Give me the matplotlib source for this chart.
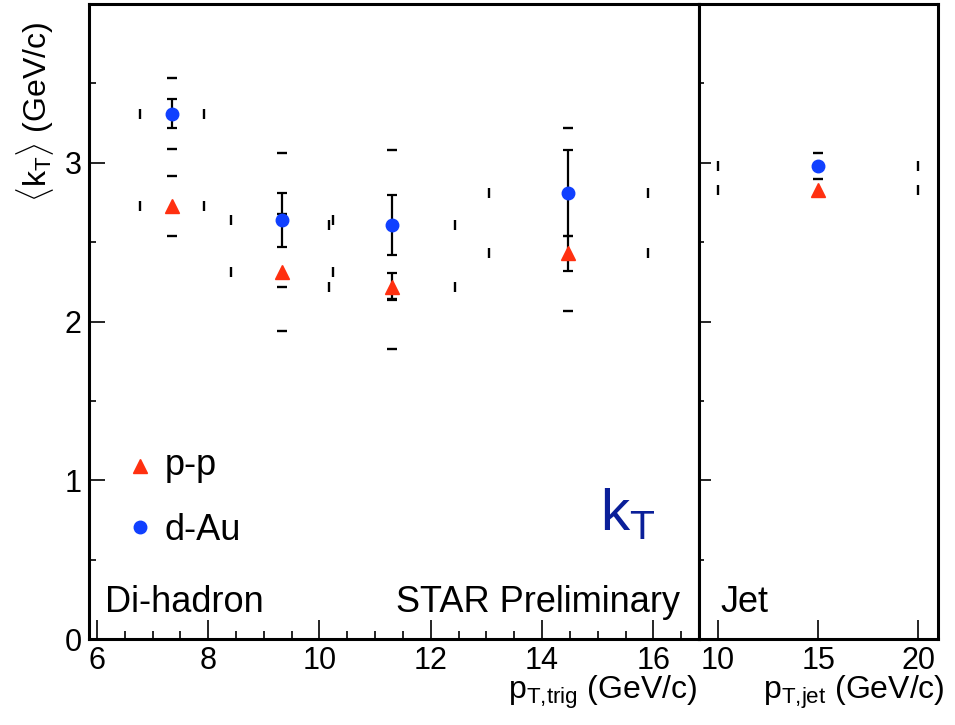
import numpy as np
import matplotlib
matplotlib.use('Agg')
import matplotlib.pyplot as plt
from matplotlib.ticker import MultipleLocator, FixedLocator

plt.rcParams['font.family'] = ['Liberation Sans', 'DejaVu Sans']
plt.rcParams['mathtext.fontset'] = 'custom'
plt.rcParams['mathtext.rm'] = 'Liberation Sans'
plt.rcParams['mathtext.it'] = 'Liberation Sans:italic'
plt.rcParams['mathtext.sf'] = 'Liberation Sans'

# di-hadron points (x = <pT,trig>, x error = trigger bin range)
trig_pt = [7.35, 9.33, 11.31, 14.47]
trig_xlo = [0.58, 0.92, 1.13, 1.43]
trig_xhi = [0.58, 0.92, 1.13, 1.44]
pp_kt = [2.73, 2.31, 2.22, 2.43]
pp_stat = [0.0, 0.0, 0.085, 0.11]
pp_sys = [0.19, 0.37, 0.39, 0.36]
dau_kt = [3.31, 2.64, 2.61, 2.81]
dau_stat = [0.09, 0.17, 0.19, 0.27]
dau_sys = [0.225, 0.42, 0.47, 0.41]

# jet points
jet_pt = [15.0]
jet_xerr = [5.0]
jet_pp_kt = [2.83]
jet_dau_kt = [2.98]
jet_dau_sys = [0.08]

red = '#ff3010'
blue = '#1040ff'

fig = plt.figure(figsize=(9.55, 7.25), dpi=100)
ax1 = fig.add_axes([88.5/955, 85.7/725, 610/955, 635.3/725])
ax2 = fig.add_axes([698.5/955, 85.7/725, 239.8/955, 635.3/725])


def brackets(ax, x, y, xerr, yerr):
    # ROOT "[]" style: only the ends of the error bars
    eb = ax.errorbar(x, y, xerr=xerr, yerr=yerr, fmt='none', ecolor='k',
                     capsize=3.8, capthick=1.7, elinewidth=1.7, zorder=2)
    for lc in eb[2]:
        lc.set_visible(False)


def stat(ax, x, y, err):
    x = np.asarray(x); y = np.asarray(y); err = np.asarray(err)
    m = err > 0
    if m.any():
        ax.errorbar(x[m], y[m], yerr=err[m], fmt='none', ecolor='k',
                    capsize=3.8, capthick=1.6, elinewidth=1.6, zorder=3)


xerr = [trig_xlo, trig_xhi]
brackets(ax1, trig_pt, pp_kt, xerr, pp_sys)
brackets(ax1, trig_pt, dau_kt, xerr, dau_sys)
stat(ax1, trig_pt, pp_kt, pp_stat)
stat(ax1, trig_pt, dau_kt, dau_stat)
ax1.plot(trig_pt, pp_kt, ls='none', marker='^', ms=9.5, color=red, mec=red, zorder=5)
ax1.plot(trig_pt, dau_kt, ls='none', marker='o', ms=9, color=blue, mec=blue, zorder=5)

brackets(ax2, jet_pt, jet_pp_kt, jet_xerr, None)
brackets(ax2, jet_pt, jet_dau_kt, jet_xerr, jet_dau_sys)
ax2.plot(jet_pt, jet_pp_kt, ls='none', marker='^', ms=9.5, color=red, mec=red, zorder=5)
ax2.plot(jet_pt, jet_dau_kt, ls='none', marker='o', ms=9, color=blue, mec=blue, zorder=5)

ax1.set_xlim(5.85, 16.81)
ax1.set_ylim(0, 4.0)
ax2.set_xlim(9.03, 21.0)
ax2.set_ylim(0, 4.0)

for ax in (ax1, ax2):
    for s in ax.spines.values():
        s.set_linewidth(2.2)

ax1.xaxis.set_major_locator(MultipleLocator(2))
ax1.xaxis.set_minor_locator(MultipleLocator(0.5))
ax1.yaxis.set_major_locator(FixedLocator([0, 1, 2, 3]))
ax1.yaxis.set_minor_locator(FixedLocator([0.5, 1.5, 2.5, 3.5]))
ax1.tick_params(axis='x', which='major', direction='in', length=13.7, width=1.2,
                labelsize=22, pad=5, top=False)
ax1.tick_params(axis='x', which='minor', direction='in', length=5.8, width=1.2, top=False)
ax1.tick_params(axis='y', which='major', direction='in', length=11.5, width=1.2,
                labelsize=22, pad=5, right=False)
ax1.tick_params(axis='y', which='minor', direction='in', length=5, width=1.2, right=False)

ax2.xaxis.set_major_locator(FixedLocator([10, 15, 20]))
ax2.yaxis.set_major_locator(FixedLocator([0, 1, 2, 3]))
ax2.yaxis.set_minor_locator(FixedLocator([0.5, 1.5, 2.5, 3.5]))
ax2.tick_params(axis='x', which='major', direction='in', length=13.7, width=1.2,
                labelsize=22, pad=5, top=False)
ax2.tick_params(axis='y', which='major', direction='in', length=8.6, width=1.2,
                labelleft=False, right=False)
ax2.tick_params(axis='y', which='minor', direction='in', length=3.6, width=1.2, right=False)

# legend drawn by hand, as in the original
ax1.plot([0.0844], [0.2728], transform=ax1.transAxes, marker='^', ms=9.5,
         color=red, mec=red, ls='none')
ax1.plot([0.0844], [0.1768], transform=ax1.transAxes, marker='o', ms=9,
         color=blue, mec=blue, ls='none')
ax1.text(0.125, 0.2586, 'p-p', transform=ax1.transAxes, fontsize=26, va='baseline')
ax1.text(0.125, 0.1563, 'd-Au', transform=ax1.transAxes, fontsize=26, va='baseline')

ax1.text(0.8385, 0.172, r'k$_{\rm T}$', transform=ax1.transAxes, fontsize=42,
         color='#0a1f99', va='baseline')
ax1.text(0.027, 0.043, 'Di-hadron', transform=ax1.transAxes, fontsize=26, va='baseline')
ax1.text(0.97, 0.043, 'STAR Preliminary', transform=ax1.transAxes, fontsize=26,
         va='baseline', ha='right')
ax2.text(0.09, 0.043, 'Jet', transform=ax2.transAxes, fontsize=26, va='baseline')

fig.text(35/955, 1 - 22/725, r'$\langle$k$_{\rm T}\rangle$ (GeV/c)', rotation=90,
         ha='center', va='top', fontsize=23)
fig.text(697/955, 1 - 699/725, r'p$_{{\rm T}{,}{\rm trig}}$ (GeV/c)', ha='right',
         va='baseline', fontsize=23)
fig.text(945/955, 1 - 699/725, r'p$_{{\rm T}{,}{\rm jet}}$ (GeV/c)', ha='right',
         va='baseline', fontsize=23)

fig.savefig('out.png', dpi=100)
